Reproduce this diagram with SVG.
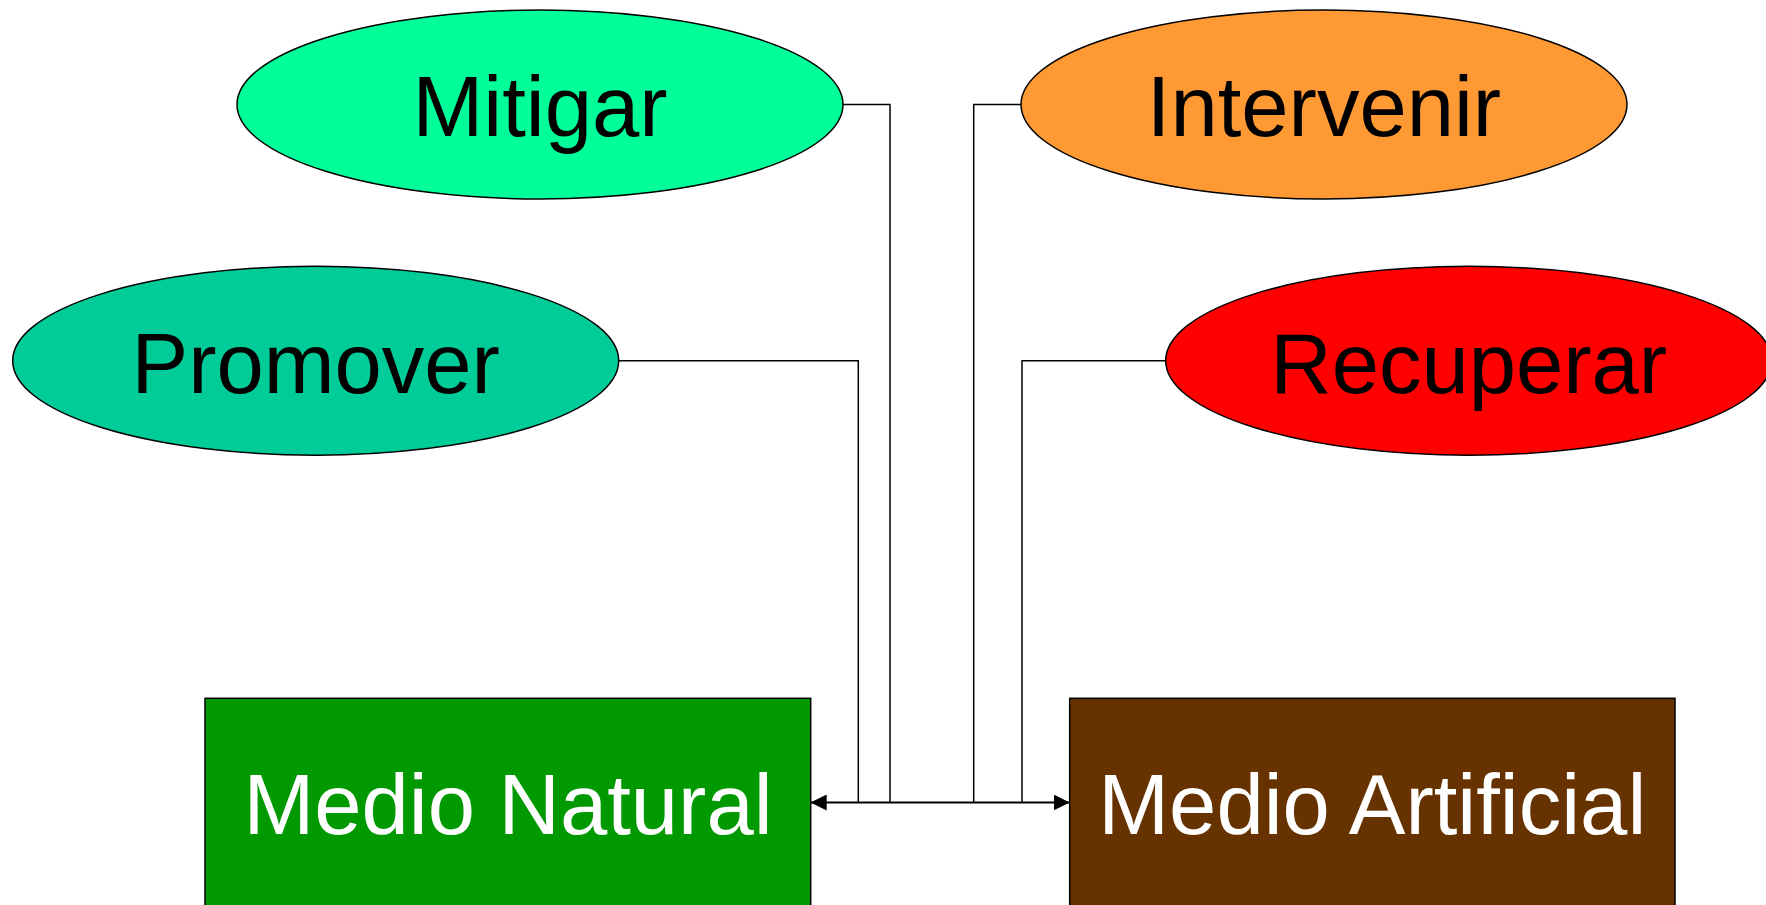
<svg xmlns="http://www.w3.org/2000/svg" width="1766" height="905" viewBox="0 0 1766 905">
<style>
.node{stroke:#000;stroke-width:1.5}
.lbl{font-family:"Liberation Sans",Arial,sans-serif;font-size:85px;text-anchor:middle}
.dark{fill:#000}
.light{fill:#fff}
.conn{fill:none;stroke:#000;stroke-width:1.5}
</style>
<defs>
<marker id="arr" viewBox="0 0 16 16" refX="16" refY="8" markerWidth="16" markerHeight="16" markerUnits="userSpaceOnUse" orient="auto-start-reverse">
<path d="M0,0 L16,8 L0,16 Z" fill="#000"/>
</marker>
</defs>
<rect width="1766" height="905" fill="#fff"/>
<g id="connectors">
<polyline class="conn" points="842.5,104.5 890,104.5 890,802.5"/>
<polyline class="conn" points="618.5,360.7 858.3,360.7 858.3,802.5"/>
<polyline class="conn" points="1021,104.5 973.7,104.5 973.7,802.5"/>
<polyline class="conn" points="1165.7,360.7 1022,360.7 1022,802.5"/>
<line class="conn" x1="810.7" y1="802.5" x2="1069.7" y2="802.5" style="stroke-width:2" marker-start="url(#arr)" marker-end="url(#arr)"/>
</g>
<g id="mitigar">
<ellipse class="node" cx="540" cy="104.5" rx="303" ry="94.5" fill="#00FF99"/>
<text class="lbl dark" x="540" y="136">Mitigar</text>
</g>
<g id="promover">
<ellipse class="node" cx="315.7" cy="360.7" rx="303" ry="94.5" fill="#00CC99"/>
<text class="lbl dark" x="315.7" y="392.5">Promover</text>
</g>
<g id="intervenir">
<ellipse class="node" cx="1324" cy="104.5" rx="303" ry="94.5" fill="#FF9933"/>
<text class="lbl dark" x="1324" y="136">Intervenir</text>
</g>
<g id="recuperar">
<ellipse class="node" cx="1468.7" cy="360.7" rx="303" ry="94.5" fill="#FF0000"/>
<text class="lbl dark" x="1468.7" y="392.5">Recuperar</text>
</g>
<g id="medio-natural">
<rect class="node" x="205" y="698.3" width="605.7" height="215" fill="#009900"/>
<text class="lbl light" x="508" y="834.3">Medio Natural</text>
</g>
<g id="medio-artificial">
<rect class="node" x="1069.7" y="698.3" width="605.3" height="215" fill="#663300"/>
<text class="lbl light" x="1372.3" y="834.3">Medio Artificial</text>
</g>
</svg>
